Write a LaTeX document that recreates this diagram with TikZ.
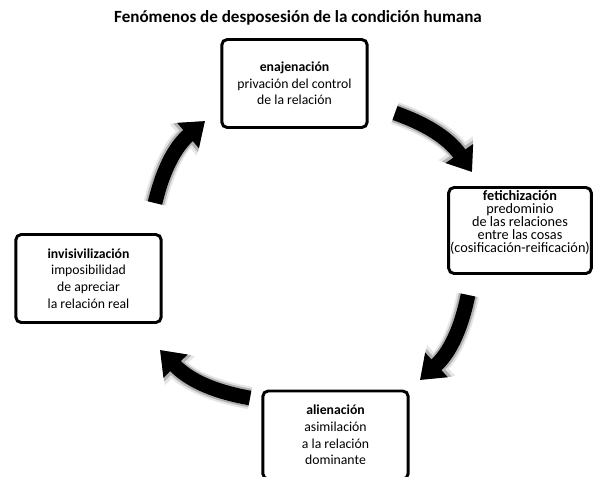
\documentclass[tikz,border=0pt]{standalone}
\usepackage{fontspec}
\setmainfont{Carlito}
\usetikzlibrary{arrows.meta}
\tikzset{
  caja/.style={draw, line width=2.2pt, rounded corners=4pt, align=center,
    minimum width=109pt, minimum height=66pt, inner sep=2pt,
    font=\fontsize{10.3}{12.5}\selectfont},
  flecha/.style={line width=11pt, -{Triangle[length=8pt 0.8, width=13pt 1]}, bend left=18},
}
\begin{document}
\begin{tikzpicture}[x=0.75pt,y=0.75pt]
	\useasboundingbox (0,0) rectangle (596,-476);
	\node[font=\fontsize{12.8}{15}\selectfont\bfseries] (titulo) at (298,-18) {Fenómenos de desposesión de la condición humana};
	\node[caja] (enaj) at (294.5,-83.5) {\textbf{enajenación}\\privación del control\\de la relación};
	\node[caja, minimum width=107pt, minimum height=64.5pt] (fetich) at (520,-230.5) {};
	\node[align=center, inner sep=0pt, font=\fontsize{10.7}{9.7}\selectfont] (fetichtxt) at (520,-222.5) {\textbf{fetichización}\\predominio\\de las relaciones\\entre las cosas\\(cosificación-reificación)};
	\node[caja] (alien) at (335.5,-435) {\textbf{alienación}\\asimilación\\a la relación\\dominante};
	\node[caja] (invis) at (88.5,-278.5) {\textbf{invisivilización}\\imposibilidad\\de apreciar\\la relación real};
	% extremos de las flechas
	\coordinate (a1) at (395,-113);
	\coordinate (a2) at (472,-172);
	\coordinate (b1) at (468,-295);
	\coordinate (b2) at (420,-380);
	\coordinate (c1) at (250,-398);
	\coordinate (c2) at (160,-350);
	\coordinate (d1) at (155,-203);
	\coordinate (d2) at (205,-121);
	% sombra
	\foreach \w/\c in {17/10,14/30}{
		\draw[flecha, line width=\w pt, black!\c] (a1) to (a2);
		\draw[flecha, line width=\w pt, black!\c] (b1) to (b2);
		\draw[flecha, line width=\w pt, black!\c] (c1) to (c2);
		\draw[flecha, line width=\w pt, black!\c] (d1) to (d2);
	}
	\draw[flecha] (a1) to (a2);
	\draw[flecha] (b1) to (b2);
	\draw[flecha] (c1) to (c2);
	\draw[flecha] (d1) to (d2);
\end{tikzpicture}
\end{document}
